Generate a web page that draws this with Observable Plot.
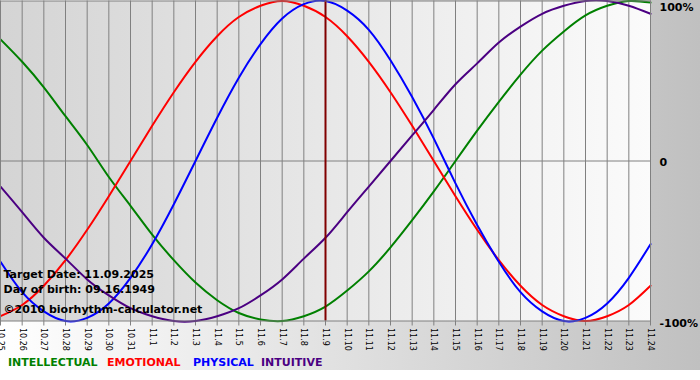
<!DOCTYPE html>
<html><head><meta charset="utf-8">
<script src="https://cdn.jsdelivr.net/npm/d3@7"></script>
<script src="https://cdn.jsdelivr.net/npm/@observablehq/plot@0.6"></script>
<style>
html,body{margin:0;padding:0;background:#fff;}
#wrap{position:relative;width:700px;height:370px;background:linear-gradient(to right,#ffffff,#c0c0c0);font-family:"DejaVu Sans",Verdana,sans-serif;overflow:hidden;}
#chart svg{display:block;}
#legend{position:absolute;left:0;top:357px;height:13px;width:700px;font-size:11px;font-weight:bold;line-height:11px;}
#legend span{position:absolute;top:0;white-space:nowrap;}
</style></head><body>
<div id="wrap"><div id="chart"></div><div id="legend"></div></div>
<script>
// Day labels (x axis)
const dates = ["10.25","10.26","10.27","10.28","10.29","10.30","10.31",
  "11.1","11.2","11.3","11.4","11.5","11.6","11.7","11.8","11.9","11.10","11.11","11.12",
  "11.13","11.14","11.15","11.16","11.17","11.18","11.19","11.20","11.21","11.22","11.23","11.24"];

// Series values (fraction of 100%), one per day
const intellectual = [0.76,0.62,0.46,0.28,0.10,-0.10,-0.28,-0.46,-0.62,-0.76,-0.87,-0.95,-0.99,-1.00,-0.97,-0.91,
  -0.81,-0.69,-0.54,-0.37,-0.19,0.00,0.19,0.37,0.54,0.69,0.81,0.91,0.97,1.00,0.99];
const emotional = [-0.97,-0.90,-0.78,-0.62,-0.43,-0.22,0.00,0.22,0.43,0.62,0.78,0.90,0.97,1.00,0.97,0.90,
  0.78,0.62,0.43,0.22,0.00,-0.22,-0.43,-0.62,-0.78,-0.90,-0.97,-1.00,-0.97,-0.90,-0.78];
const physical = [-0.63,-0.82,-0.94,-1.00,-0.98,-0.89,-0.73,-0.52,-0.27,0.00,0.27,0.52,0.73,0.89,0.98,1.00,
  0.94,0.82,0.63,0.40,0.14,-0.14,-0.40,-0.63,-0.82,-0.94,-1.00,-0.98,-0.89,-0.73,-0.52];
const intuitive = [-0.16,-0.32,-0.48,-0.61,-0.74,-0.84,-0.92,-0.97,-1.00,-1.00,-0.97,-0.92,-0.84,-0.74,-0.61,-0.48,
  -0.32,-0.16,0.00,0.16,0.32,0.48,0.61,0.74,0.84,0.92,0.97,1.00,1.00,0.97,0.92];

const seriesNames = ["INTELLECTUAL","EMOTIONAL","PHYSICAL","INTUITIVE"];
const seriesColors = ["#008000","#ff0000","#0000ff","#4b0082"];
const yTickValues = [1, 0, -1];
const yTickLabels = ["100%", "0", "-100%"];
const targetDate = "11.9";
const infoLines = ["Target Date: 11.09.2025", "Day of birth: 09.16.1949", "\u00a92010 biorhythm-calculator.net"];

const seriesValues = [intellectual, emotional, physical, intuitive];
const table = (vals) => dates.map((d, i) => ({date: d, value: vals[i]}));

const lineMarks = seriesValues.map((vals, k) =>
  Plot.line(table(vals), {x: "date", y: "value", stroke: seriesColors[k], strokeWidth: 2, curve: "natural"}));

const plot = Plot.plot({
  width: 700, height: 345,
  marginLeft: 0, marginRight: 50, marginTop: 0.5, marginBottom: 24.5,
  style: {background: "transparent", fontFamily: "DejaVu Sans, Verdana, sans-serif", overflow: "visible"},
  x: {type: "point", domain: dates, padding: 0, round: false, label: null},
  y: {domain: [-1, 1], axis: null},
  marks: [
    Plot.frame({fill: "#e4e4e4"}),
    Plot.ruleX(dates, {stroke: "#808080", strokeWidth: 1}),
    Plot.ruleY([0], {stroke: "#808080", strokeWidth: 1}),
    Plot.axisX({tickRotate: 90, tickSize: 5, tickPadding: 2, fontSize: 8, stroke: "#808080", fill: "black", label: null}),
    ...lineMarks,
    Plot.ruleX([targetDate], {stroke: "#800000", strokeWidth: 2}),
    Plot.frame({stroke: "#808080"}),
    Plot.text([infoLines[0]], {frameAnchor: "bottom-left", dx: 3, dy: -43.5, textAnchor: "start", lineAnchor: "bottom", fontSize: 11, fontWeight: "bold", fill: "black"}),
    Plot.text([infoLines[1]], {frameAnchor: "bottom-left", dx: 3, dy: -28.5, textAnchor: "start", lineAnchor: "bottom", fontSize: 11, fontWeight: "bold", fill: "black"}),
    Plot.text([infoLines[2]], {frameAnchor: "bottom-left", dx: 3, dy: -8.5, textAnchor: "start", lineAnchor: "bottom", fontSize: 11, fontWeight: "bold", fill: "black"}),
    Plot.text([yTickLabels[0]], {frameAnchor: "top-right", dx: 9, dy: 6.5, textAnchor: "start", lineAnchor: "middle", fontSize: 11, fontWeight: "bold", fill: "black"}),
    Plot.text([yTickValues[1]], {y: d => d, text: () => yTickLabels[1], frameAnchor: "right", dx: 9, dy: 1.5, textAnchor: "start", lineAnchor: "middle", fontSize: 11, fontWeight: "bold", fill: "black"}),
    Plot.text([yTickLabels[2]], {frameAnchor: "bottom-right", dx: 9, dy: 2, textAnchor: "start", lineAnchor: "middle", fontSize: 11, fontWeight: "bold", fill: "black"})
  ]
});

// gradient fill for the plotting area
const sel = d3.select(plot);
const defs = sel.insert("defs", ":first-child");
const grad = defs.append("linearGradient").attr("id", "plotbg").attr("x1", "0").attr("x2", "1").attr("y1", "0").attr("y2", "0");
grad.append("stop").attr("offset", "0").attr("stop-color", "#d4d4d4");
grad.append("stop").attr("offset", "1").attr("stop-color", "#fbfbfb");
const frameEl = plot.querySelector('[aria-label="frame"]');
if (frameEl) {
  const r = frameEl.tagName.toLowerCase() === "rect" ? frameEl : frameEl.querySelector("rect");
  if (r) r.setAttribute("fill", "url(#plotbg)");
}
document.getElementById("chart").appendChild(plot);

// legend
const legendLeft = [8, 107, 193, 261];
const legend = d3.select("#legend");
seriesNames.forEach((n, i) => {
  legend.append("span").style("left", legendLeft[i] + "px").style("color", seriesColors[i]).text(n);
});
</script>
</body></html>
